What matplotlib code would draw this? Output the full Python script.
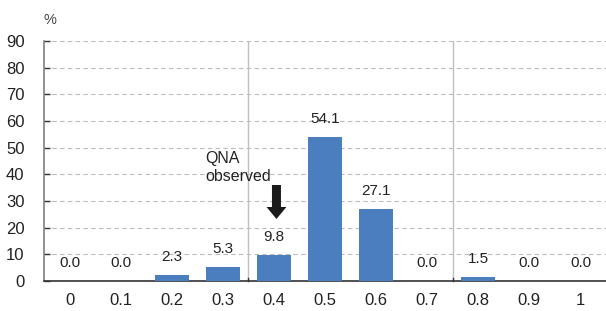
import matplotlib
matplotlib.use("Agg")
import matplotlib.pyplot as plt

categories = ["0", "0.1", "0.2", "0.3", "0.4", "0.5", "0.6", "0.7", "0.8", "0.9", "1"]
values = [0.0, 0.0, 2.3, 5.3, 9.8, 54.1, 27.1, 0.0, 1.5, 0.0, 0.0]
yticks = [0, 10, 20, 30, 40, 50, 60, 70, 80, 90]

plt.rcParams['font.family'] = ['Liberation Sans', 'DejaVu Sans']

fig = plt.figure(figsize=(6.06, 3.11), dpi=100)
ax = fig.add_axes([0.0726, 0.0965, 0.9274, 0.7717])

x = list(range(len(categories)))
ax.bar(x, values, width=0.67, color='#4a7ebf', zorder=3)

for xi, v in zip(x, values):
    ax.annotate(f"{v:.1f}", (xi, v), xytext=(0, 13), textcoords='offset points',
                ha='center', va='center', fontsize=11, color='#222222', zorder=4)

ax.set_xlim(-0.5, len(categories) - 0.5)
ax.set_ylim(0, 90)
ax.set_yticks(yticks)
ax.set_xticks(x)
ax.set_xticklabels(categories)
ax.tick_params(axis='x', length=0, pad=9, labelsize=12, colors='#222222')
ax.tick_params(axis='y', direction='in', length=4, width=1, color='#333333', pad=14,
               labelsize=12, labelcolor='#222222')

ax.yaxis.grid(True, linestyle=(0, (4, 3)), color='#bbbbbb', linewidth=0.8, zorder=0)
ax.set_axisbelow(True)

for s in ['top', 'right']:
    ax.spines[s].set_visible(False)
ax.spines['left'].set_color('#808080')
ax.spines['left'].set_linewidth(1.2)
ax.spines['bottom'].set_color('#333333')
ax.spines['bottom'].set_linewidth(1.2)

for xv in [3.5, 7.5]:
    ax.axvline(xv, color='#c0c0c0', linewidth=1.0, zorder=1)
    ax.plot([xv, xv], [0, 1.2], color='#333333', linewidth=1.0, zorder=2, clip_on=False)

ax.arrow(4.05, 36.0, 0, -12.75, width=0.176, head_width=0.39, head_length=4.5,
         length_includes_head=True, color='#1a1a1a', lw=0, zorder=5)
ax.text(2.65, 48.8, "QNA\nobserved", ha='left', va='top', fontsize=11.5,
        color='#222222', linespacing=1.25)

fig.text(0.082, 0.935, "%", ha='center', va='center', fontsize=10.5, color='#444444')

fig.savefig("out.png", dpi=100)
